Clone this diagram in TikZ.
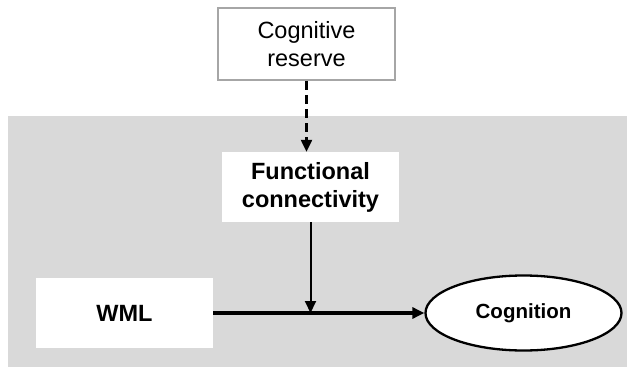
\documentclass[tikz,border=0pt]{standalone}
\usepackage{fontspec}
\setmainfont{Liberation Sans}
\usetikzlibrary{arrows.meta}
\usetikzlibrary{shapes.geometric}
\usetikzlibrary{positioning}
\definecolor{bggray}{HTML}{D9D9D9}
\definecolor{boxgray}{HTML}{A6A6A6}

\begin{document}
\begin{tikzpicture}[x=1pt,y=-1pt,
  plainbox/.style={draw=boxgray,line width=2pt,fill=white,align=center,
    minimum width=177pt,minimum height=72pt,inner sep=0pt,font=\fontsize{23.5}{28}\selectfont},
  whitebox/.style={fill=white,align=center,minimum width=177pt,minimum height=70pt,
    inner sep=0pt,font=\bfseries\fontsize{23.5}{28}\selectfont},
  oval/.style={ellipse,draw,line width=2.3pt,fill=white,minimum width=196pt,
    minimum height=75pt,inner sep=0pt,font=\bfseries\fontsize{20.5}{24}\selectfont},
  arr/.style={-{Triangle[length=12pt,width=11pt]}}]
\useasboundingbox (0,0) rectangle (627,369);
\fill[bggray] (8,116) rectangle (627,367);

\node[plainbox] (CR) at (306.5,44) {Cognitive\\reserve};
\node[whitebox] (FC) at (310.5,187) {Functional\\connectivity};
\node[whitebox] (WML) at (124.5,313) {WML};
\node[oval] (Cog) at (523.5,313) {Cognition};
\coordinate (J) at (FC.south |- WML.east);

\draw[arr,line width=2.3pt,dash pattern=on 9pt off 5pt] (CR.south) -- (CR.south |- FC.north);
\draw[arr,line width=2pt] (FC.south) -- (J);
\draw[arr,line width=3.2pt] (WML.east) -- (Cog.west);

\end{tikzpicture}
\end{document}
